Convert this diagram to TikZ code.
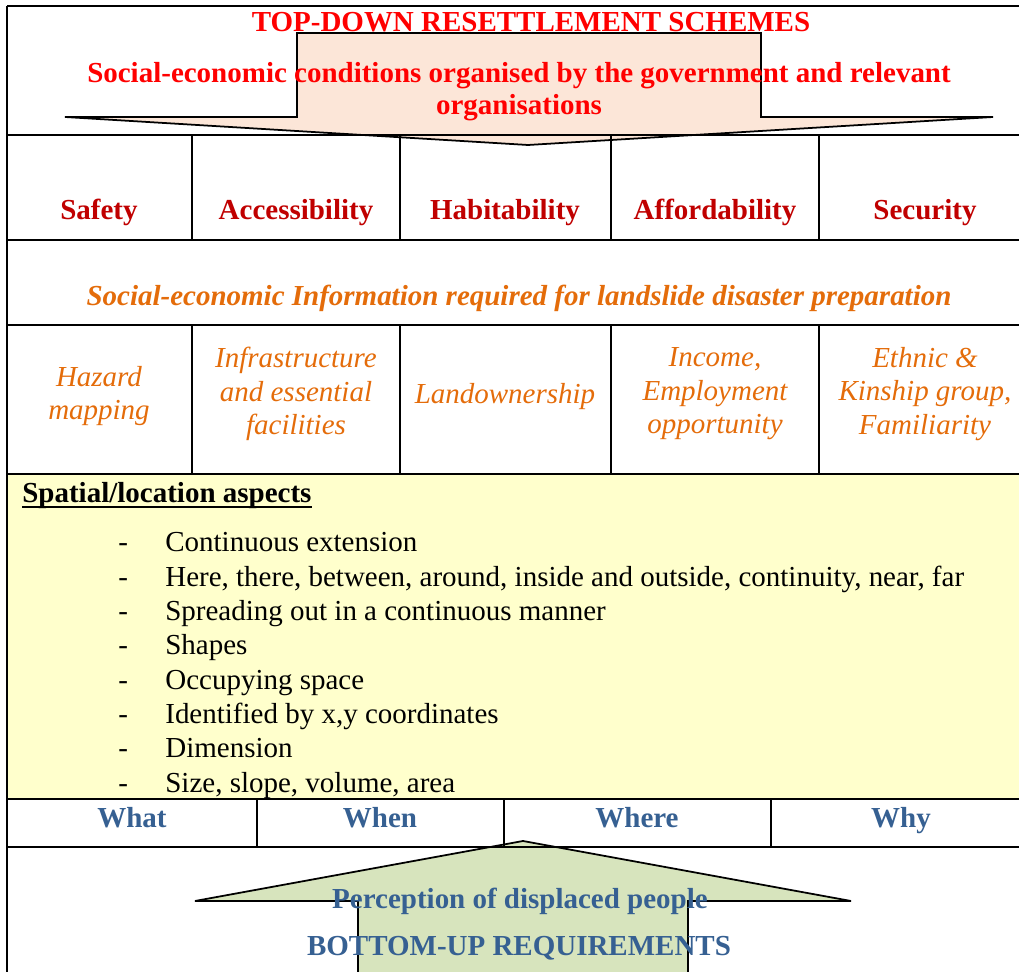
\documentclass[tikz,border=0pt]{standalone}
\usepackage{fontspec}
\setmainfont{Liberation Serif}
\usepackage{tikz}
\usetikzlibrary{positioning}

\definecolor{schemered}{HTML}{FF0000}
\definecolor{condred}{HTML}{C00000}
\definecolor{infoorange}{HTML}{E46C0A}
\definecolor{peopleblue}{HTML}{366092}
\definecolor{peach}{HTML}{FCE6D8}
\definecolor{sage}{HTML}{D7E4BD}
\definecolor{paleyellow}{HTML}{FFFFCC}

\begin{document}
\begin{tikzpicture}[x=0.02cm, y=-0.02cm, font=\fontsize{16.5}{19}\selectfont]
\tikzstyle{rule}=[line width=1.3pt]
\tikzstyle{sep}=[line width=0.8pt]
\tikzstyle{toptext}=[font=\fontsize{16.5}{18.2}\selectfont\bfseries, text=schemered, align=center, inner sep=0pt]
\tikzstyle{condition}=[font=\fontsize{16.5}{19}\selectfont\bfseries, text=condred, anchor=base, inner sep=0pt]
\tikzstyle{infotext}=[font=\fontsize{16.5}{19}\selectfont\itshape, text=infoorange, align=center, inner sep=0pt]
\tikzstyle{wtext}=[font=\fontsize{16.5}{19}\selectfont\bfseries, text=peopleblue, anchor=base, inner sep=0pt]
\tikzstyle{listitem}=[anchor=base west, inner sep=0pt]
\useasboundingbox (0,0) rectangle (1019,972);
\clip (0,0) rectangle (1019,972);

% backgrounds and the two arrows
\fill[paleyellow] (7,474) rectangle (1031,799);
\filldraw[fill=peach, line width=1pt] (297,33) -- (761,33) -- (761,117) -- (993,117) -- (528,145) -- (65,117) -- (297,117) -- cycle;
\filldraw[fill=sage, line width=1pt] (358,990) -- (358,901) -- (195,901) -- (523,841) -- (851,901) -- (688,901) -- (688,990);

% table rules
\foreach \y in {6,135,240,325,474,799,847} \draw[rule] (7,\y) -- (1031,\y);
\draw[rule] (7,6) -- (7,972);
\foreach \x in {192,400,611,819} {
  \draw[sep] (\x,135) -- (\x,240);
  \draw[sep] (\x,325) -- (\x,474);
}
\foreach \x in {257,504,771} \draw[sep] (\x,799) -- (\x,847);

% top-down part
\node[toptext, anchor=base] (schemes) at (531,32) {TOP-DOWN RESETTLEMENT SCHEMES};
\node[toptext] (conditions) at (519,92) {Social-economic conditions organised by the government and relevant\\organisations};
\node[condition] (safety) at (99,220) {Safety}; \node[condition] (access) at (296,220) {Accessibility}; \node[condition] (habit) at (505,220) {Habitability}; \node[condition] (afford) at (715,220) {Affordability}; \node[condition] (security) at (925,220) {Security};
\node[infotext, font=\fontsize{16.5}{19}\selectfont\bfseries\itshape, anchor=base] (info) at (519,306) {Social-economic Information required for landslide disaster preparation};
\node[infotext] (hazard) at (99,396) {Hazard\\mapping}; \node[infotext] (infra) at (296,394) {Infrastructure\\and essential\\facilities}; \node[infotext] (land) at (505,397) {Landownership}; \node[infotext] (income) at (715,394) {Income,\\Employment\\opportunity}; \node[infotext] (ethnic) at (925,394) {Ethnic \&\\Kinship group,\\Familiarity};

% spatial aspects
\node[listitem, font=\fontsize{16.5}{19}\selectfont\bfseries] (spatial) at (22,503) {Spatial/location aspects};
\draw[line width=0.8pt] ([yshift=-2.2pt]spatial.base west) -- ([yshift=-2.2pt]spatial.base east);
\foreach \txt [count=\i] in {Continuous extension, {Here, there, between, around, inside and outside, continuity, near, far}, Spreading out in a continuous manner, Shapes, Occupying space, {Identified by x,y coordinates}, Dimension, {Size, slope, volume, area}} {
  \node[listitem] (dash\i) at (118,552+34.3*\i-34.3) {-};
  \node[listitem] (item\i) at (165,552+34.3*\i-34.3) {\txt};
}

% bottom-up part
\node[wtext] (what) at (132,828) {What}; \node[wtext] (when) at (380,828) {When}; \node[wtext] (where) at (637,828) {Where}; \node[wtext] (why) at (901,828) {Why};
\node[wtext] (perception) at (520,909) {Perception of displaced people};
\node[wtext] (bottomup) at (519,956) {BOTTOM-UP REQUIREMENTS};
\end{tikzpicture}
\end{document}
